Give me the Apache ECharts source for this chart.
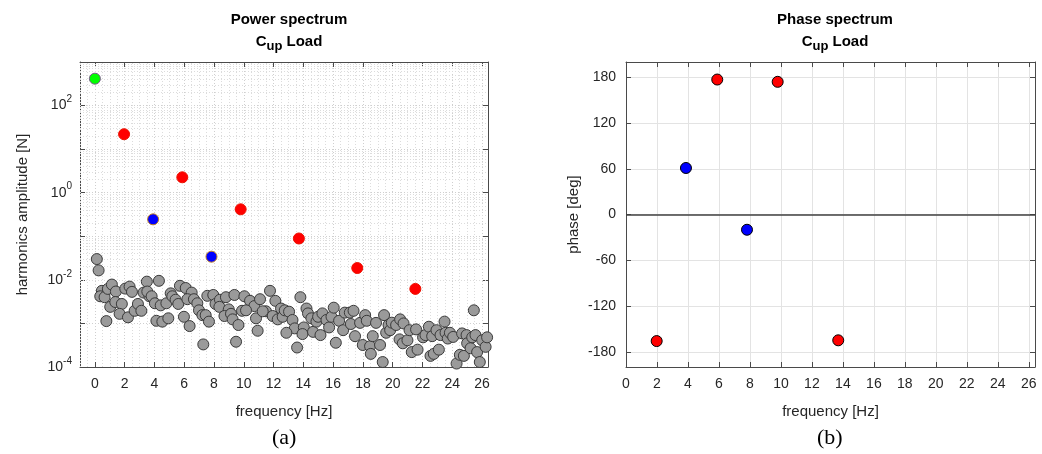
<!DOCTYPE html>
<html>
<head>
<meta charset="utf-8">
<script src="https://cdn.jsdelivr.net/npm/echarts@6/dist/echarts.min.js"></script>
<style>
html,body{margin:0;padding:0;background:#fff;}
#c{width:1042px;height:454px;}
</style>
</head>
<body>
<div id="c"></div>
<script>
// ---------- DATA ----------
const xTicks = [0,2,4,6,8,10,12,14,16,18,20,22,24,26];
const ampTickDecades = [1e-4,1e-3,1e-2,1e-1,1,1e1,1e2,1e3];
const ampLabelDecades = [1e-4,1e-2,1,1e2];
const phaseTicks = [-180,-120,-60,0,60,120,180];

// power spectrum: fundamental harmonics
const greenFreq = [0];
const greenAmp = [414];
const redFreq = [1.96, 5.87, 9.79, 13.7, 17.62, 21.52];
const redAmp = [22, 2.26, 0.416, 0.089, 0.0187, 0.0062];
const blueFreq = [3.91, 7.83];
const blueAmp = [0.245, 0.034];

// power spectrum: background (gray) components
const grayFreq = [0.13,0.25,0.47,0.36,0.65,0.87,1.14,1.41,1.03,1.37,1.81,1.66,0.77,2.04,2.33,2.49,2.22,2.67,2.89,3.12,3.27,3.49,3.66,
 4.30,3.52,3.81,4.03,4.42,4.80,5.09,5.20,5.42,5.60,5.71,6.10,6.50,6.21,6.65,6.88,6.99,7.22,7.44,7.66,4.13,4.53,4.93,5.98,6.36,7.28,7.55,7.95,8.10,
 8.40,8.80,9.37,8.36,8.99,8.70,9.14,9.25,9.64,10.04,10.42,10.71,9.88,10.15,10.82,11.09,10.93,9.48,11.76,12.12,11.49,11.27,11.94,12.28,12.50,12.61,
 12.75,13.04,13.27,13.42,12.86,13.80,14.21,14.31,14.54,14.03,13.94,13.58,14.65,14.88,14.99,15.15,15.28,15.55,15.73,15.89,16.04,16.40,16.67,16.18,16.78,17.12,
 17.37,17.19,17.47,17.81,17.99,18.15,18.26,18.48,18.53,18.66,18.88,19.15,19.33,19.42,19.56,19.72,19.83,19.94,20.23,20.50,20.46,20.73,20.68,20.99,21.13,21.28,21.57,21.67,
 22.04,22.20,22.43,22.65,22.54,22.76,22.94,23.10,23.21,23.48,23.55,23.70,23.84,24.06,24.29,24.51,24.66,24.78,24.96,25.00,25.23,25.34,25.56,25.45,25.67,25.85,26.01,26.24,26.34];
const grayAmp = [0.030,0.0165,0.0056,0.0042,0.0040,0.0062,0.0078,0.0054,0.0024,0.0031,0.0028,0.00166,0.00113,0.0063,0.0070,0.0053,0.00138,0.00195,0.0028,0.00195,0.0051,0.0091,0.0042,
 0.0095,0.0054,0.0042,0.0029,0.0026,0.0029,0.0049,0.0042,0.0035,0.0028,0.0073,0.0065,0.0051,0.0036,0.0036,0.0029,0.0020,0.00155,0.00155,0.0011,0.00115,0.0011,0.00131,0.00142,0.00087,0.00033,0.0043,0.0045,0.0028,
 0.0035,0.0040,0.0045,0.0024,0.0021,0.00148,0.00166,0.00124,0.00092,0.0042,0.0033,0.0025,0.00195,0.0020,0.00131,0.0036,0.00068,0.00038,0.0056,0.0033,0.0019,0.0019,0.00148,0.00124,0.0022,0.00142,
 0.0020,0.00186,0.0012,0.00077,0.00061,0.0040,0.0022,0.0017,0.00131,0.00081,0.00057,0.00028,0.00064,0.0011,0.00142,0.00054,0.0017,0.0012,0.00081,0.00142,0.0023,0.00115,0.00070,0.00036,0.00177,0.00177,
 0.00195,0.00097,0.00051,0.00103,0.00032,0.00155,0.00115,0.00030,0.00020,0.00051,0.00103,0.00032,0.000130,0.00155,0.00061,0.00092,0.00070,0.00104,0.00092,0.00124,0.00043,0.00100,0.00035,0.00041,0.00070,0.00022,0.00073,0.00025,
 0.00048,0.00054,0.00084,0.00051,0.00018,0.00020,0.00070,0.00025,0.00054,0.0011,0.00061,0.00045,0.00061,0.00049,0.000120,0.00019,0.00059,0.00018,0.00054,0.00035,0.00027,0.00048,0.00054,0.0020,0.00022,0.000130,0.00041,0.00029,0.00048];

// phase spectrum
const redPhaseFreq = [1.98, 5.89, 9.79, 13.7];
const redPhase = [-166, 177, 174, -165];
const bluePhaseFreq = [3.87, 7.81];
const bluePhase = [61, -20];

// ---------- BUILD ----------
const zip = (a, b) => a.map((v, i) => [v, b[i]]);
const TXT = '#262626';
const AX = '#4a4a4a';
const FONT = 'Liberation Sans, Arial, sans-serif';

// minor grid positions (left plot)
const xMinor = [];
for (let t = -1; t <= 26.4 + 1e-9; t += 0.5) {
  const r = Math.round(t * 10) / 10;
  if (Math.abs(r / 2 - Math.round(r / 2)) > 1e-6) xMinor.push(r);
}
const yMinor = [];
for (let d = -4; d <= 2; d++) for (let m = 2; m <= 9; m++) yMinor.push(m * Math.pow(10, d));

const chart = echarts.init(document.getElementById('c'), null, {renderer: 'canvas'});

const tickStyle = {inside: true, length: 5, lineStyle: {color: AX, width: 1}};
const labelStyle = {color: TXT, fontSize: 14, fontFamily: FONT};
const lineOff = {show: true, onZero: false, lineStyle: {color: AX}};

chart.setOption({
  animation: false,
  backgroundColor: '#fff',
  title: [
    {text: 'Power spectrum', left: 284, top: 7, textAlign: 'center',
     textStyle: {fontSize: 15, fontWeight: 'bold', color: '#000', fontFamily: FONT}},
    {text: '{b|C}{s|up}{b| Load}', left: 284, top: 25, textAlign: 'center',
     textStyle: {rich: {b: {fontSize: 15, fontWeight: 'bold', color: '#000', fontFamily: FONT},
                        s: {fontSize: 13, fontWeight: 'bold', color: '#000', fontFamily: FONT, padding: [10, 0, 0, 0]}}}},
    {text: 'Phase spectrum', left: 830, top: 7, textAlign: 'center',
     textStyle: {fontSize: 15, fontWeight: 'bold', color: '#000', fontFamily: FONT}},
    {text: '{b|C}{s|up}{b| Load}', left: 830, top: 25, textAlign: 'center',
     textStyle: {rich: {b: {fontSize: 15, fontWeight: 'bold', color: '#000', fontFamily: FONT},
                        s: {fontSize: 13, fontWeight: 'bold', color: '#000', fontFamily: FONT, padding: [10, 0, 0, 0]}}}}
  ],
  graphic: [
    {type: 'text', left: 272, top: 427, style: {text: '(a)', font: '22px "Liberation Serif", "Times New Roman", serif', fill: '#000'}},
    {type: 'text', left: 817, top: 427, style: {text: '(b)', font: '22px "Liberation Serif", "Times New Roman", serif', fill: '#000'}}
  ],
  grid: [
    {left: 80, top: 62, width: 408, height: 305, show: false},
    {left: 626, top: 62, width: 409, height: 305, show: false}
  ],
  xAxis: [
    {type: 'value', gridIndex: 0, min: -1, max: 26.4, position: 'bottom',
     name: 'frequency [Hz]', nameLocation: 'middle', nameGap: 37,
     nameTextStyle: {color: TXT, fontSize: 15, fontFamily: FONT},
     axisLine: lineOff, axisTick: Object.assign({customValues: xTicks}, tickStyle),
     axisLabel: Object.assign({customValues: xTicks, margin: 10}, labelStyle),
     splitLine: {show: true, lineStyle: {color: '#cfcfcf', type: [1, 2], width: 1}}},
    {type: 'value', gridIndex: 0, min: -1, max: 26.4, position: 'top',
     axisLine: lineOff, axisTick: Object.assign({customValues: xTicks}, tickStyle),
     axisLabel: {show: false}, splitLine: {show: false}},
    {type: 'value', gridIndex: 1, min: 0, max: 26.4, position: 'bottom',
     name: 'frequency [Hz]', nameLocation: 'middle', nameGap: 37,
     nameTextStyle: {color: TXT, fontSize: 15, fontFamily: FONT},
     axisLine: lineOff, axisTick: Object.assign({customValues: xTicks}, tickStyle),
     axisLabel: Object.assign({customValues: xTicks, margin: 10}, labelStyle),
     splitLine: {show: true, lineStyle: {color: '#e3e3e3', width: 1}}},
    {type: 'value', gridIndex: 1, min: 0, max: 26.4, position: 'top',
     axisLine: lineOff, axisTick: Object.assign({customValues: xTicks}, tickStyle),
     axisLabel: {show: false}, splitLine: {show: false}}
  ],
  yAxis: [
    {type: 'log', logBase: 10, gridIndex: 0, min: 1e-4, max: 1e3, position: 'left',
     name: 'harmonics amplitude [N]', nameLocation: 'middle', nameGap: 50, nameRotate: 90,
     nameTextStyle: {color: TXT, fontSize: 15, fontFamily: FONT},
     axisLine: lineOff,
     axisTick: Object.assign({customValues: ampTickDecades}, tickStyle),
     axisLabel: {customValues: ampLabelDecades, margin: 8,
       formatter: v => '{b|10}{s|' + Math.round(Math.log10(v)) + '}',
       rich: {b: {color: TXT, fontSize: 14, fontFamily: FONT},
              s: {color: TXT, fontSize: 10, fontFamily: FONT, padding: [0, 0, 12, 0]}}},
     splitLine: {show: true, lineStyle: {color: '#cfcfcf', type: [1, 2], width: 1}}},
    {type: 'log', logBase: 10, gridIndex: 0, min: 1e-4, max: 1e3, position: 'right',
     axisLine: lineOff,
     axisTick: Object.assign({customValues: ampTickDecades}, tickStyle),
     axisLabel: {show: false}, splitLine: {show: false}},
    {type: 'value', gridIndex: 1, min: -200, max: 200, position: 'left',
     name: 'phase [deg]', nameLocation: 'middle', nameGap: 45, nameRotate: 90,
     nameTextStyle: {color: TXT, fontSize: 15, fontFamily: FONT},
     axisLine: lineOff,
     axisTick: Object.assign({customValues: phaseTicks}, tickStyle),
     axisLabel: Object.assign({customValues: phaseTicks, margin: 10}, labelStyle),
     splitLine: {show: true, lineStyle: {color: '#e3e3e3', width: 1}}},
    {type: 'value', gridIndex: 1, min: -200, max: 200, position: 'right',
     axisLine: lineOff,
     axisTick: Object.assign({customValues: phaseTicks}, tickStyle),
     axisLabel: {show: false}, splitLine: {show: false}}
  ],
  series: [
    // minor grid (left plot)
    {type: 'scatter', xAxisIndex: 0, yAxisIndex: 0, data: [], silent: true, z: 1,
     markLine: {silent: true, symbol: 'none', animation: false, label: {show: false},
       lineStyle: {color: '#dcdcdc', type: [1, 2], width: 1},
       data: xMinor.map(x => ({xAxis: x})).concat(yMinor.map(y => ({yAxis: y})))}},
    {type: 'scatter', name: 'gray', xAxisIndex: 0, yAxisIndex: 0, z: 10,
     data: zip(grayFreq, grayAmp), symbolSize: 11,
     itemStyle: {color: '#9a9a9a', borderColor: '#3a3a3a', borderWidth: 1, opacity: 1}},
    {type: 'scatter', name: 'green', xAxisIndex: 0, yAxisIndex: 0, z: 11,
     data: zip(greenFreq, greenAmp), symbolSize: 11,
     itemStyle: {color: '#00ff00', borderColor: '#7a5a8a', borderWidth: 1, opacity: 1}},
    {type: 'scatter', name: 'red', xAxisIndex: 0, yAxisIndex: 0, z: 11,
     data: zip(redFreq, redAmp), symbolSize: 11,
     itemStyle: {color: '#ff0000', borderColor: '#ee1100', borderWidth: 1, opacity: 1}},
    {type: 'scatter', name: 'blue', xAxisIndex: 0, yAxisIndex: 0, z: 11,
     data: zip(blueFreq, blueAmp), symbolSize: 11,
     itemStyle: {color: '#0000ff', borderColor: '#c08020', borderWidth: 1, opacity: 1}},
    // phase
    {type: 'scatter', name: 'zero', xAxisIndex: 2, yAxisIndex: 2, data: [], silent: true, z: 1,
     markLine: {silent: true, symbol: 'none', animation: false, label: {show: false},
       lineStyle: {color: '#404040', type: 'solid', width: 1.5}, data: [{yAxis: 0}]}},
    {type: 'scatter', name: 'phaseRed', xAxisIndex: 2, yAxisIndex: 2, z: 10,
     data: zip(redPhaseFreq, redPhase), symbolSize: 11,
     itemStyle: {color: '#ff0000', borderColor: '#000', borderWidth: 1, opacity: 1}},
    {type: 'scatter', name: 'phaseBlue', xAxisIndex: 2, yAxisIndex: 2, z: 10,
     data: zip(bluePhaseFreq, bluePhase), symbolSize: 11,
     itemStyle: {color: '#0000ff', borderColor: '#000', borderWidth: 1, opacity: 1}}
  ]
});
</script>
</body>
</html>
